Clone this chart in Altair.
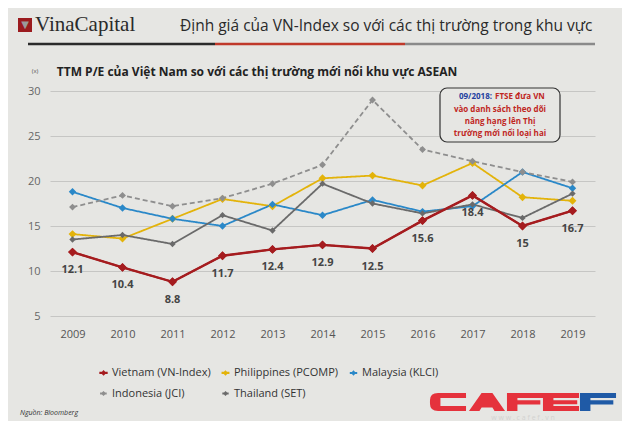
import altair as alt
import pandas as pd

years = [str(y) for y in range(2009, 2020)]
series_names = ["Vietnam (VN-Index)", "Philippines (PCOMP)", "Malaysia (KLCI)",
                "Indonesia (JCI)", "Thailand (SET)"]
vietnam = [12.1, 10.4, 8.8, 11.7, 12.4, 12.9, 12.5, 15.6, 18.4, 15.0, 16.7]
philippines = [14.1, 13.6, 15.8, 18.0, 17.2, 20.3, 20.6, 19.5, 22.0, 18.2, 17.8]
malaysia = [18.8, 17.0, 15.8, 15.0, 17.4, 16.2, 17.9, 16.6, 17.2, 21.0, 19.2]
indonesia = [17.1, 18.4, 17.2, 18.1, 19.7, 21.8, 29.0, 23.5, 22.2, 21.0, 19.9]
thailand = [13.5, 14.0, 13.0, 16.2, 14.5, 19.7, 17.5, 16.4, 17.4, 15.9, 18.6]
y_ticks = [5, 10, 15, 20, 25, 30]

colors = ["#a51c1f", "#e3b30a", "#2a88c8", "#8e8e8e", "#6a6a6a"]
dashes = [[1, 0], [1, 0], [1, 0], [5, 3], [1, 0]]
sizes = [70, 40, 40, 40, 40]

rows = []
for name, vals in zip(series_names, [vietnam, philippines, malaysia, indonesia, thailand]):
    for yr, v in zip(years, vals):
        rows.append({"year": yr, "value": v, "series": name, "marker": name})
df = pd.DataFrame(rows)
df_vn = df[df["series"] == series_names[0]]

FONT = "Open Sans"
BG = "#e6e6e3"
LEG_SYM = "M-1,0H-0.3L0,-0.3L0.3,0H1H0.3L0,0.3L-0.3,0Z"

x_enc = alt.X("year:O", scale=alt.Scale(type="point", padding=0.45),
              axis=alt.Axis(title=None, labelAngle=0, labelPadding=12, labelFontSize=11,
                            labelColor="#555", domain=False, ticks=False, grid=False))
y_enc = alt.Y("value:Q", scale=alt.Scale(domain=[5, 30], nice=False, zero=False),
              axis=alt.Axis(title=None, values=y_ticks, labelPadding=10, labelFontSize=11,
                            labelColor="#666", domain=False, ticks=False, grid=True,
                            gridColor="#c6c6c4", gridWidth=1))


def leg():
    return alt.Legend(title=None, symbolType=LEG_SYM, symbolSize=420, symbolStrokeWidth=2.2)


stroke_enc = alt.Stroke("series:N", scale=alt.Scale(domain=series_names, range=colors), legend=leg())
dash_enc = alt.StrokeDash("series:N", scale=alt.Scale(domain=series_names, range=dashes), legend=leg())
fill_enc = alt.Fill("marker:N", scale=alt.Scale(domain=series_names, range=colors), legend=None)

base = alt.Chart(df).encode(x=x_enc, y=y_enc)

lines = base.mark_line(strokeWidth=1.8).encode(stroke=stroke_enc, strokeDash=dash_enc)
points = base.mark_point(shape="diamond", filled=True, opacity=1).encode(
    fill=fill_enc,
    size=alt.Size("marker:N", scale=alt.Scale(domain=series_names, range=sizes), legend=None))

vn_base = alt.Chart(df_vn).encode(x=x_enc, y=y_enc)
vn_line = vn_base.mark_line(strokeWidth=2.4, color=colors[0])
vn_pts = vn_base.mark_point(shape="diamond", filled=True, opacity=1, size=80, color=colors[0])
vn_labels = vn_base.mark_text(dy=18, fontSize=11, fontWeight="bold", color="#444", font=FONT).encode(
    text=alt.Text("value:Q", format=".1~f"))


def one():
    return alt.Chart(pd.DataFrame({"a": [0]}))


def label(text, x, y, **kw):
    return one().mark_text(text=text, **kw).encode(x=alt.value(x), y=alt.value(y))


def rule(x1, x2, y, color, w):
    return one().mark_rule(color=color, strokeWidth=w).encode(
        x=alt.value(x1), x2=alt.value(x2), y=alt.value(y))


def glyph(path, x, y, color, size=1300):
    return one().mark_point(shape=path, filled=True, opacity=1, size=size, color=color,
                            strokeWidth=0).encode(x=alt.value(x), y=alt.value(y))


# CAFEF logo letter outlines (box -1..1 wide, -0.5..0.5 tall)
P_C = "M1,-0.5H-0.55Q-1,-0.5 -1,-0.1V0.1Q-1,0.5 -0.55,0.5H1V0.22H-0.42V-0.22H1Z"
P_A = "M-1,0.5L-0.3,-0.5H0.3L1,0.5H0.42L0.3,0.3H-0.3L-0.42,0.5Z"
P_F = "M-1,-0.5H1V-0.22H-0.42V-0.1H0.85V0.14H-0.42V0.5H-1Z"
P_E = "M-1,-0.5H1V-0.22H-0.42V-0.1H0.9V0.12H-0.42V0.22H1V0.5H-1Z"

deco = [
    # header
    one().mark_rect(color="#9b1b1e").encode(x=alt.value(-32), x2=alt.value(-18),
                                            y=alt.value(-73), y2=alt.value(-59)),
    label("▼", -25, -66, fontSize=10, color="#9a9a9a", font="DejaVu Sans"),
    label("VinaCapital", -15, -60, fontSize=21, font="Liberation Serif", color="#2a2a2a",
          align="left", baseline="alphabetic"),
    label("Định giá của VN-Index so với các thị trường trong khu vực", 130, -65,
          fontSize=15.5, font=FONT, color="#2a2a2a", align="left", baseline="middle"),
    rule(-22, 165, -47, "#2b2b2b", 2.5),
    rule(165, 355, -47, "#c0392b", 2.5),
    rule(355, 545, -47, "#8a8a8a", 2.5),
    label("(x)", -15, -20, fontSize=6, font=FONT, color="#555", baseline="middle"),
    label("TTM P/E của Việt Nam so với các thị trường mới nổi khu vực ASEAN", 207, -19,
          fontSize=12, font=FONT, fontWeight="bold", color="#222", baseline="middle"),
    # annotation box
    one().mark_rect(cornerRadius=7, stroke="#333", strokeWidth=1.2, fill=BG).encode(
        x=alt.value(390), x2=alt.value(510), y=alt.value(-3), y2=alt.value(51)),
    label("09/2018:", 442, 6, fontSize=8, fontWeight="bold", font=FONT, color="#2340a0",
          align="right", baseline="middle"),
    label("FTSE đưa VN", 445, 6, fontSize=8, fontWeight="bold", font=FONT, color="#c0271f",
          align="left", baseline="middle"),
    label("vào danh sách theo dõi", 450, 19, fontSize=8, fontWeight="bold", font=FONT,
          color="#c0271f", baseline="middle"),
    label("nâng hạng lên Thị", 450, 31, fontSize=8, fontWeight="bold", font=FONT,
          color="#c0271f", baseline="middle"),
    label("trường mới nổi loại hai", 450, 43, fontSize=8, fontWeight="bold", font=FONT,
          color="#c0271f", baseline="middle"),
    # source
    label("Nguồn: Bloomberg", -30, 322, fontSize=7, fontStyle="italic", font=FONT,
          color="#333", align="left", baseline="middle"),
    # CAFEF logo
    glyph(P_C, 398, 311, "#e5323c"),
    glyph(P_A, 437, 311, "#e5323c"),
    glyph(P_F, 475, 311, "#e5323c"),
    glyph(P_E, 511, 311, "#e5323c"),
    glyph(P_F, 548, 311, "#1f5aa6"),
    label("w   w   w   .   c   a   f   e   f   .   v   n", 473, 327, fontSize=7, font=FONT,
          color="#d2d2d0", baseline="middle"),
]

chart = alt.layer(lines, points, vn_line, vn_pts, vn_labels, *deco).properties(
    width=545, height=225,
    autosize=alt.AutoSizeParams(type="none"),
    padding={"left": 42, "top": 83, "right": 27, "bottom": 105},
    background=BG,
).configure_view(stroke=None).configure_axis(labelFont=FONT).configure_legend(
    orient="none", legendX=48, legendY=276, direction="horizontal", columns=3,
    labelFont=FONT, labelFontSize=11, labelColor="#333",
    rowPadding=8, columnPadding=6, labelOffset=3, labelLimit=200,
)

chart.save("out.html", embed_options={"renderer": "svg", "actions": False})
